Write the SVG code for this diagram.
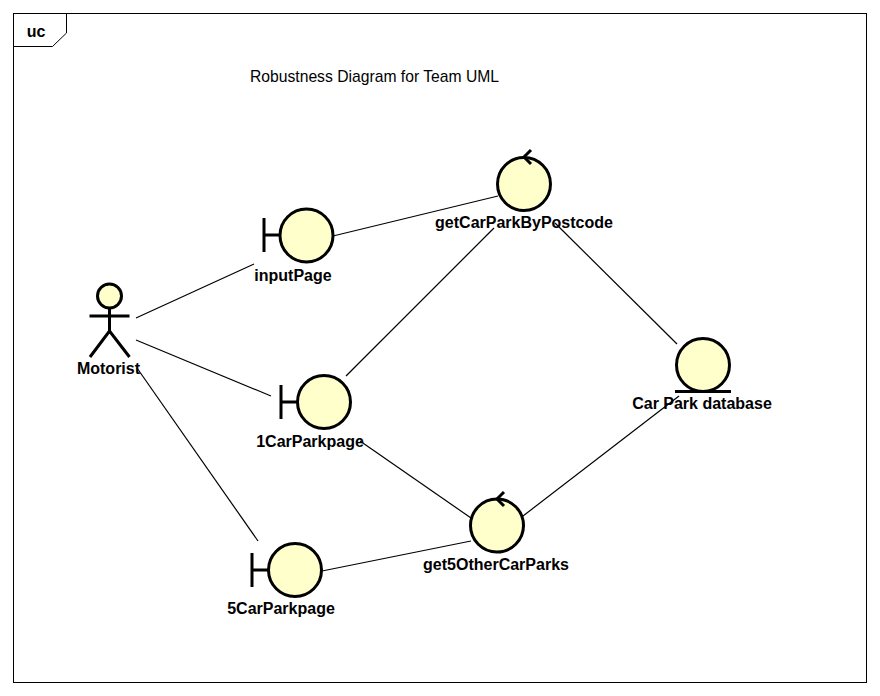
<svg xmlns="http://www.w3.org/2000/svg" width="880" height="696" viewBox="0 0 880 696">
<style>
text{font-family:"Liberation Sans",Arial,sans-serif;font-size:16px;font-weight:bold;fill:#000;text-anchor:middle}
.b{fill:#ffffcc;stroke:#000;stroke-width:3}
.s{fill:none;stroke:#000;stroke-width:3}
.c{fill:none;stroke:#000;stroke-width:1.2}
</style>
<rect width="880" height="696" fill="#fff"/>
<g id="frame">
<rect x="13.500" y="13.500" width="853" height="669" fill="none" stroke="#000" stroke-width="1"/>
<path d="M13.500 46.500H52.500L66.500 33V13.500" fill="none" stroke="#000" stroke-width="1"/>
<text x="36" y="37">uc</text>
<text x="374.500" y="82" style="font-weight:normal;font-size:15.700px">Robustness Diagram for Team UML</text>
</g>
<g id="connectors">
<path class="c" d="M136 318L254 264"/>
<path class="c" d="M136 340L271 396"/>
<path class="c" d="M137 368L258 541"/>
<path class="c" d="M333 236L498 196"/>
<path class="c" d="M346 376L494 228"/>
<path class="c" d="M360 441L471 518"/>
<path class="c" d="M322 571L471 541"/>
<path class="c" d="M555 223L677 344"/>
<path class="c" d="M523 516L679 396"/>
</g>
<g id="motorist">
<circle class="b" cx="109.500" cy="296" r="12"/>
<path class="s" d="M109.500 308V331M89.500 316H129.500M90 357L109.500 331L129.500 357"/>
<text x="108.500" y="374">Motorist</text>
</g>
<g id="inputPage">
<path class="s" d="M264 218V252M264 235H280"/>
<circle class="b" cx="306.500" cy="235.500" r="26.500"/>
<text x="293" y="281">inputPage</text>
</g>
<g id="oneCarParkpage">
<path class="s" d="M281 385V419M281 402H297"/>
<circle class="b" cx="324" cy="402" r="26.500"/>
<text x="310" y="447">1CarParkpage</text>
</g>
<g id="fiveCarParkpage">
<path class="s" d="M252 553V587M252 570H268"/>
<circle class="b" cx="295" cy="570" r="26.500"/>
<text x="281" y="614">5CarParkpage</text>
</g>
<g id="getCarParkByPostcode">
<circle class="b" cx="524" cy="184" r="26.500"/>
<path class="s" d="M531 150L524 157L531 164"/>
<text x="524" y="228">getCarParkByPostcode</text>
</g>
<g id="get5OtherCarParks">
<circle class="b" cx="497" cy="525.500" r="26.500"/>
<path class="s" d="M504 492L497 499L504 506"/>
<text x="496" y="570">get5OtherCarParks</text>
</g>
<g id="carParkDatabase">
<circle class="b" cx="703" cy="365" r="26.500"/>
<path class="s" d="M675 391.500H731"/>
<text x="702" y="409">Car Park database</text>
</g>
</svg>
